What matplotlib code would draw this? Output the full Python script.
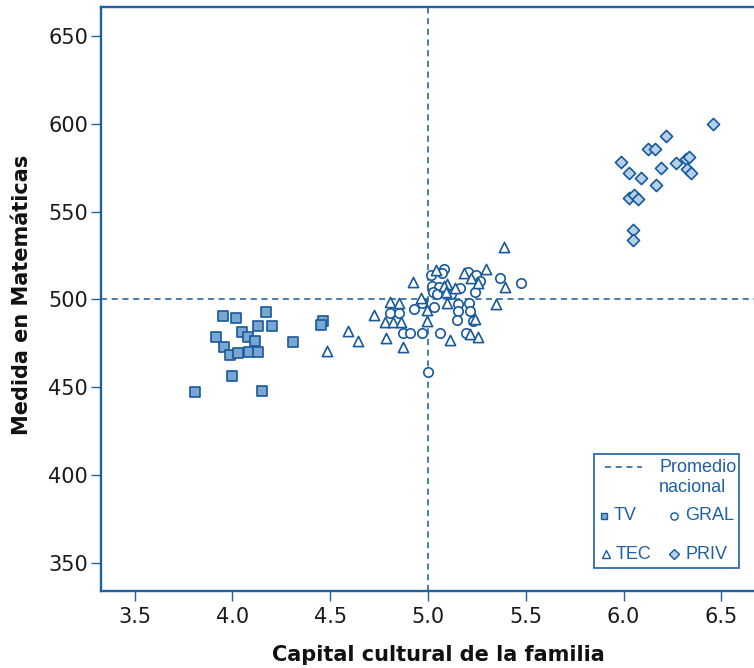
import matplotlib
matplotlib.use("Agg")
import matplotlib.pyplot as plt
from matplotlib.lines import Line2D
from matplotlib.patches import Rectangle

# ---------------- data ----------------
tv_x = [3.950, 4.020, 4.170, 4.129, 4.201, 4.049, 3.918, 4.080, 4.116, 4.311,
        3.957, 3.989, 4.030, 4.083, 4.131, 3.999, 3.809, 4.151, 4.462, 4.451]
tv_y = [490.4, 489.2, 493.0, 484.7, 484.8, 481.6, 478.4, 478.4, 476.1, 475.7,
        473.1, 468.5, 469.3, 470.2, 469.9, 456.2, 447.1, 448.0, 487.7, 485.2]

gral_x = [5.083, 5.014, 5.070, 5.203, 5.245, 5.368, 5.475, 5.266, 5.022, 5.058,
          5.164, 5.024, 5.044, 5.240, 4.968, 4.930, 5.031, 5.155, 5.211, 5.152,
          5.215, 5.150, 5.229, 4.806, 4.852, 4.874, 4.908, 4.969, 5.061, 5.194,
          5.000, 5.118]
gral_y = [517.1, 513.9, 514.9, 515.8, 513.9, 512.4, 509.5, 510.5, 507.8, 506.9,
          506.3, 504.0, 502.9, 504.4, 497.8, 494.5, 495.5, 497.4, 498.1, 493.4,
          493.4, 488.3, 487.7, 492.4, 492.4, 481.0, 481.0, 481.0, 481.0, 481.0,
          458.8, 503.1]

tec_x = [5.389, 5.041, 4.922, 5.186, 5.221, 5.298, 5.256, 5.395, 5.096, 5.083,
         5.138, 5.092, 4.964, 5.096, 5.346, 4.993, 4.993, 5.240, 5.112, 5.215,
         5.257, 4.724, 4.593, 4.644, 4.485, 4.785, 4.874, 4.806, 4.853, 4.780,
         4.823, 4.860]
tec_y = [529.7, 516.7, 510.1, 514.9, 512.0, 517.1, 509.2, 507.2, 508.6, 507.6,
         506.3, 504.4, 501.0, 498.1, 497.4, 494.0, 487.7, 488.7, 476.9, 480.3,
         478.8, 491.1, 482.2, 476.5, 470.8, 477.8, 473.1, 498.7, 498.1, 487.0,
         487.0, 487.3]

priv_x = [6.459, 6.217, 6.126, 6.161, 5.987, 6.268, 6.319, 6.333, 6.190, 6.326,
          6.345, 6.029, 6.089, 6.164, 6.026, 6.055, 6.072, 6.046, 6.046]
priv_y = [599.9, 593.2, 585.7, 585.5, 578.4, 577.9, 579.8, 580.9, 574.7, 574.1,
          572.2, 572.2, 569.3, 565.2, 557.9, 559.3, 557.0, 539.5, 533.8]

mean_x = 5.0
mean_y = 500
x_ticks = [3.5, 4.0, 4.5, 5.0, 5.5, 6.0, 6.5]
y_ticks = [350, 400, 450, 500, 550, 600, 650]

x_label = "Capital cultural de la familia"
y_label = "Medida en Matemáticas"
legend_labels = ["Promedio\nnacional", "TV", "GRAL", "TEC", "PRIV"]

# ---------------- style ----------------
EDGE = "#17599b"
SPINE = "#1f5fa5"
TV_FILL = "#7aa6d2"
PRIV_FILL = "#b5d0ea"
LEG_TXT = "#1f5fa5"

fig = plt.figure(figsize=(7.54, 6.68), dpi=100)
ax = fig.add_axes([0.1333, 0.1157, 0.8667, 0.8733])

ax.axvline(mean_x, color=EDGE, lw=1.1, ls=(0, (4, 3)), zorder=1)
ax.axhline(mean_y, color=EDGE, lw=1.1, ls=(0, (4, 3)), zorder=1)

ax.scatter(tv_x, tv_y, marker="s", s=44, facecolor=TV_FILL, edgecolor=EDGE,
           linewidth=1.2, zorder=3)
ax.scatter(gral_x, gral_y, marker="o", s=46, facecolor="white", edgecolor=EDGE,
           linewidth=1.2, zorder=3)
ax.scatter(tec_x, tec_y, marker="^", s=54, facecolor="white", edgecolor=EDGE,
           linewidth=1.2, zorder=3)
ax.scatter(priv_x, priv_y, marker="D", s=38, facecolor=PRIV_FILL, edgecolor=EDGE,
           linewidth=1.2, zorder=3)

ax.set_xlim(3.326, 6.667)
ax.set_ylim(334.1, 666.3)
ax.set_xticks(x_ticks)
ax.set_xticklabels([f"{v:.1f}" for v in x_ticks])
ax.set_yticks(y_ticks)

for side in ["left", "bottom", "top"]:
    ax.spines[side].set_color(SPINE)
    ax.spines[side].set_linewidth(1.7)
ax.spines["right"].set_visible(False)

ax.tick_params(axis="both", colors=SPINE, labelcolor="#1a1a1a", labelsize=15,
               length=7, width=1.0, direction="out")
ax.tick_params(axis="x", pad=5)
ax.tick_params(axis="y", pad=2)

ax.set_xlabel(x_label, fontsize=15, fontweight="bold", labelpad=12.5,
              color="#111111")
ax.set_ylabel(y_label, fontsize=15, fontweight="bold", labelpad=11.5,
              color="#111111")
ax.xaxis.label.set_x(0.5165)
ax.yaxis.label.set_y(0.5063)

# ---------------- legend (manual box) ----------------
lx0, lx1, ly0, ly1 = 0.7552, 0.9775, 0.0384, 0.2343
ax.add_patch(Rectangle((lx0, ly0), lx1 - lx0, ly1 - ly0, transform=ax.transAxes,
                       facecolor="white", edgecolor=SPINE, lw=1.2, zorder=5))

def ax_frac_x(px):
    return (px - 100.5) / 653.5

def ax_frac_y(py):
    return (590.7 - py) / 583.4

leg_font = dict(family="Liberation Sans", fontsize=13, color=LEG_TXT,
                transform=ax.transAxes, zorder=7, va="center", ha="left")

ax.add_line(Line2D([ax_frac_x(605), ax_frac_x(642)], [ax_frac_y(466.7)] * 2,
                   transform=ax.transAxes, color=EDGE, lw=1.1,
                   ls=(0, (4, 3)), zorder=6))
ax.text(ax_frac_x(659), ax_frac_y(477.5), legend_labels[0], linespacing=1.25,
        **leg_font)

leg_items = [
    ("s", TV_FILL, 604.3, 515.7, 614, legend_labels[1], 5.0),
    ("o", "white", 674.3, 515.7, 685, legend_labels[2], 5.2),
    ("^", "white", 606, 554.3, 615.5, legend_labels[3], 5.8),
    ("D", PRIV_FILL, 674.3, 554.3, 685, legend_labels[4], 5.0),
]
for mk, fc, mx, my, tx, lab, ms in leg_items:
    ax.add_line(Line2D([ax_frac_x(mx)], [ax_frac_y(my)], transform=ax.transAxes,
                       marker=mk, ms=ms, mfc=fc, mec=EDGE, mew=1.0,
                       ls="none", zorder=6))
    ax.text(ax_frac_x(tx), ax_frac_y(my), lab, **leg_font)

fig.savefig("out.png", dpi=100)
